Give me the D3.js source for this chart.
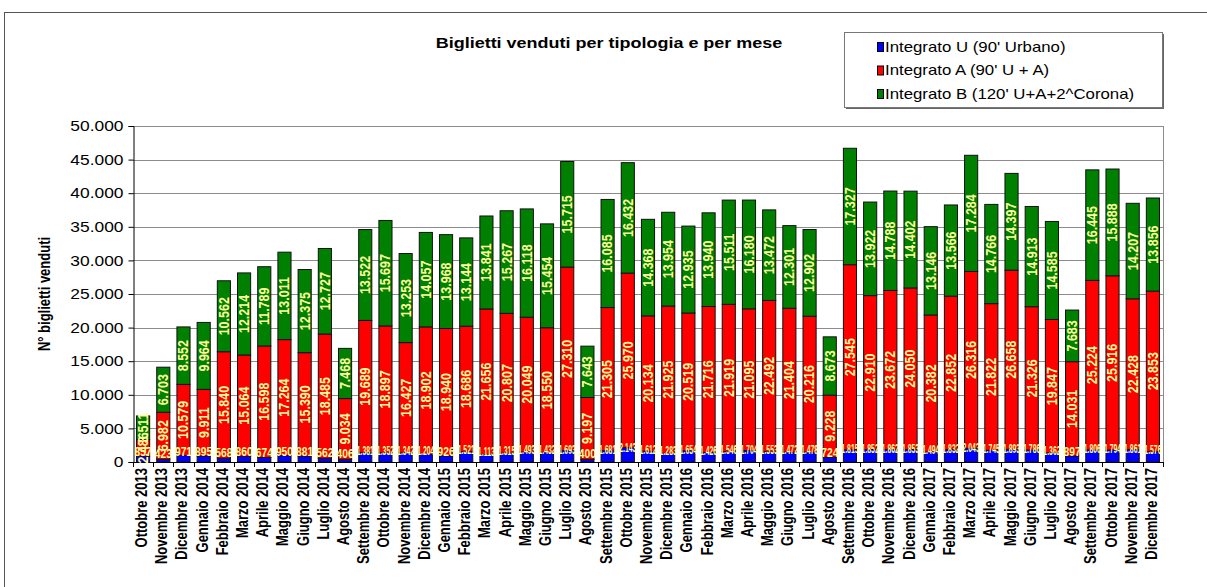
<!DOCTYPE html>
<html>
<head>
<meta charset="utf-8">
<script src="https://cdn.jsdelivr.net/npm/d3@7"></script>
<style>
  body { margin: 0; background: #fff; }
  text { font-family: Arial, "Liberation Sans", sans-serif; }
</style>
</head>
<body>
<div id="chart"></div>
<script>
const months = [
  "Ottobre 2013", "Novembre 2013", "Dicembre 2013",
  "Gennaio 2014", "Febbraio 2014", "Marzo 2014", "Aprile 2014", "Maggio 2014", "Giugno 2014",
  "Luglio 2014", "Agosto 2014", "Settembre 2014", "Ottobre 2014", "Novembre 2014", "Dicembre 2014",
  "Gennaio 2015", "Febbraio 2015", "Marzo 2015", "Aprile 2015", "Maggio 2015", "Giugno 2015",
  "Luglio 2015", "Agosto 2015", "Settembre 2015", "Ottobre 2015", "Novembre 2015", "Dicembre 2015",
  "Gennaio 2016", "Febbraio 2016", "Marzo 2016", "Aprile 2016", "Maggio 2016", "Giugno 2016",
  "Luglio 2016", "Agosto 2016", "Settembre 2016", "Ottobre 2016", "Novembre 2016", "Dicembre 2016",
  "Gennaio 2017", "Febbraio 2017", "Marzo 2017", "Aprile 2017", "Maggio 2017", "Giugno 2017",
  "Luglio 2017", "Agosto 2017", "Settembre 2017", "Ottobre 2017", "Novembre 2017", "Dicembre 2017"
];

// Integrato U (90' Urbano)
const integratoU = [
  857, 423, 971,
  895, 568, 860, 674, 950, 881, 562, 406, 1381, 1352, 1342, 1204,
  926, 1521, 1113, 1315, 1493, 1432, 1693, 400, 1681, 2143, 1612, 1283,
  1654, 1426, 1546, 1704, 1553, 1472, 1478, 724, 1815, 1852, 1862, 1853,
  1494, 1832, 2043, 1745, 1893, 1786, 1362, 897, 1806, 1794, 1861, 1576
];

// Integrato A (90' U + A)
const integratoA = [
  2486, 6982, 10579,
  9911, 15840, 15064, 16598, 17264, 15390, 18485, 9034, 19689, 18897, 16427, 18902,
  18940, 18686, 21656, 20807, 20049, 18550, 27310, 9197, 21305, 25970, 20134, 21925,
  20519, 21716, 21919, 21095, 22492, 21404, 20216, 9228, 27545, 22910, 23672, 24050,
  20382, 22852, 26316, 21822, 26658, 21326, 19847, 14031, 25224, 25916, 22428, 23853
];

// Integrato B (120' U+A+2^Corona)
const integratoB = [
  3511, 6703, 8552,
  9964, 10562, 12214, 11789, 13011, 12375, 12727, 7468, 13522, 15697, 13253, 14057,
  13968, 13144, 13841, 15267, 16118, 15454, 15715, 7643, 16085, 16432, 14368, 13954,
  12935, 13940, 15511, 16180, 13472, 12301, 12902, 8673, 17327, 13922, 14788, 14402,
  13146, 13566, 17284, 14766, 14397, 14913, 14585, 7683, 16445, 15888, 14207, 13856
];

const yTicks = [0, 5000, 10000, 15000, 20000, 25000, 30000, 35000, 40000, 45000, 50000];
const seriesKeys = ["U", "A", "B"];
const seriesNames = ["Integrato U (90' Urbano)", "Integrato A (90' U + A)", "Integrato B (120' U+A+2^Corona)"];
const seriesColors = ["#0000ff", "#ff0000", "#008000"];

const W = 1207, H = 587;
const SX = 1.2;   // l'originale e' stirato in orizzontale
const pLeft = 133, pRight = 1163, pTop = 126, pBottom = 462;

const it = d3.formatLocale({ decimal: ",", thousands: ".", grouping: [3], currency: ["€", ""] });
const fmt = it.format(",d");

const rows = months.map((m, i) => ({ month: m, U: integratoU[i], A: integratoA[i], B: integratoB[i] }));
const stacked = d3.stack().keys(seriesKeys)(rows);

const svg = d3.select("#chart")
  .append("svg")
  .attr("width", W)
  .attr("height", H);

// cornice esterna
svg.append("rect")
  .attr("x", 4.5).attr("y", 12.5)
  .attr("width", 1210).attr("height", 600)
  .attr("fill", "none")
  .attr("stroke", "#555");

const x = d3.scaleBand()
  .domain(months)
  .range([pLeft, pRight])
  .paddingInner(0.35)
  .paddingOuter(0.175);

const y = d3.scaleLinear()
  .domain([0, 50000])
  .range([pBottom, pTop]);

// griglia
svg.append("g")
  .selectAll("line")
  .data(yTicks)
  .enter()
  .append("line")
  .attr("x1", pLeft).attr("x2", pRight)
  .attr("y1", d => Math.round(y(d)) + 0.5)
  .attr("y2", d => Math.round(y(d)) + 0.5)
  .attr("stroke", "#8c8c8c");

// bordo destro area
svg.append("line")
  .attr("x1", pRight + 0.5).attr("x2", pRight + 0.5)
  .attr("y1", pTop).attr("y2", pBottom)
  .attr("stroke", "#8c8c8c");

// Asse Y
const yAxis = svg.append("g")
  .attr("transform", `translate(${pLeft + 0.5},0)`)
  .call(d3.axisLeft(y).tickValues(yTicks).tickSize(5).tickPadding(5).tickFormat(fmt));
yAxis.select(".domain").attr("stroke", "#000");
yAxis.selectAll(".tick line").attr("stroke", "#000");
yAxis.selectAll(".tick text")
  .attr("font-size", 14.5)
  .attr("fill", "#000")
  .attr("font-family", "Arial, 'Liberation Sans', sans-serif")
  .each(function() {
    const t = d3.select(this);
    const tx = +t.attr("x");
    t.attr("x", 0).attr("transform", `translate(${tx},0) scale(${SX},1)`);
  });

// Barre
const bw = x.bandwidth();
const step = x.step();
svg.append("g")
  .selectAll("g")
  .data(stacked)
  .enter()
  .append("g")
  .attr("fill", (d, i) => seriesColors[i])
  .selectAll("rect")
  .data(d => d)
  .enter()
  .append("rect")
  .attr("x", d => x(d.data.month))
  .attr("y", d => y(d[1]))
  .attr("width", bw)
  .attr("height", d => y(d[0]) - y(d[1]))
  .attr("stroke", "#111")
  .attr("stroke-width", 1);

// Asse X
svg.append("line")
  .attr("x1", pLeft).attr("x2", pRight)
  .attr("y1", pBottom + 0.5).attr("y2", pBottom + 0.5)
  .attr("stroke", "#000");

svg.append("g")
  .selectAll("line")
  .data(d3.range(months.length + 1))
  .enter()
  .append("line")
  .attr("x1", i => Math.round(pLeft + i * step) + 0.5)
  .attr("x2", i => Math.round(pLeft + i * step) + 0.5)
  .attr("y1", pBottom).attr("y2", pBottom + 5)
  .attr("stroke", "#000");

svg.append("g")
  .selectAll("text")
  .data(months)
  .enter()
  .append("text")
  .attr("transform", d => `translate(${x(d) + bw / 2 + 4},468) scale(${SX},1) rotate(-90)`)
  .attr("text-anchor", "end")
  .attr("font-size", 13)
  .attr("font-weight", "bold")
  .text(d => d);

// etichette dati: A e B verticali
[1, 2].forEach(k => {
  svg.append("g")
    .selectAll("text")
    .data(stacked[k])
    .enter()
    .append("text")
    .attr("transform", d => `translate(${x(d.data.month) + bw / 2},${y((d[0] + d[1]) / 2)}) scale(${SX},1) rotate(-90)`)
    .attr("text-anchor", "middle")
    .attr("dominant-baseline", "central")
    .attr("font-size", 12.5)
    .attr("font-weight", "bold")
    .attr("fill", "#ffff99")
    .text(d => fmt(d[1] - d[0]));
});

// etichette U orizzontali, schiacciate sulla larghezza della colonna
svg.append("g")
  .selectAll("text")
  .data(stacked[0])
  .enter()
  .append("text")
  .attr("text-anchor", "middle")
  .attr("dominant-baseline", "central")
  .attr("font-size", 12)
  .attr("font-weight", "bold")
  .attr("fill", "#ffff99")
  .text(d => fmt(d[1] - d[0]))
  .each(function(d) {
    const k = Math.min(1, (step - 3) / this.getComputedTextLength());
    d3.select(this)
      .attr("transform", `translate(${x(d.data.month) + bw / 2},${y(d[1] / 2) - 7}) scale(${k},1)`);
  });

// Titolo
svg.append("text")
  .attr("transform", `translate(609,43) scale(${SX},1)`)
  .attr("text-anchor", "middle")
  .attr("dominant-baseline", "central")
  .attr("font-size", 15)
  .attr("font-weight", "bold")
  .text("Biglietti venduti per tipologia e per mese");

// Titolo asse Y
svg.append("text")
  .attr("transform", `translate(45,294) scale(${SX},1) rotate(-90)`)
  .attr("text-anchor", "middle")
  .attr("dominant-baseline", "central")
  .attr("font-size", 13)
  .attr("font-weight", "bold")
  .text("N° biglietti venduti");

// Legenda
const lg = svg.append("g").attr("transform", "translate(844,32)");
lg.append("rect")
  .attr("x", 2).attr("y", 2)
  .attr("width", 318).attr("height", 75)
  .attr("fill", "#666");
lg.append("rect")
  .attr("x", 0.5).attr("y", 0.5)
  .attr("width", 318).attr("height", 75)
  .attr("fill", "#fff")
  .attr("stroke", "#777");

const item = lg.selectAll("g.item")
  .data(seriesNames)
  .enter()
  .append("g")
  .attr("class", "item")
  .attr("transform", (d, i) => `translate(33,${15 + i * 23.5})`);
item.append("rect")
  .attr("x", 0.5).attr("y", -4.5)
  .attr("width", 6).attr("height", 9)
  .attr("fill", (d, i) => seriesColors[i])
  .attr("stroke", "#000");
item.append("text")
  .attr("transform", `translate(8,0) scale(${SX},1)`)
  .attr("dominant-baseline", "central")
  .attr("font-size", 14)
  .text(d => d);
</script>
</body>
</html>
